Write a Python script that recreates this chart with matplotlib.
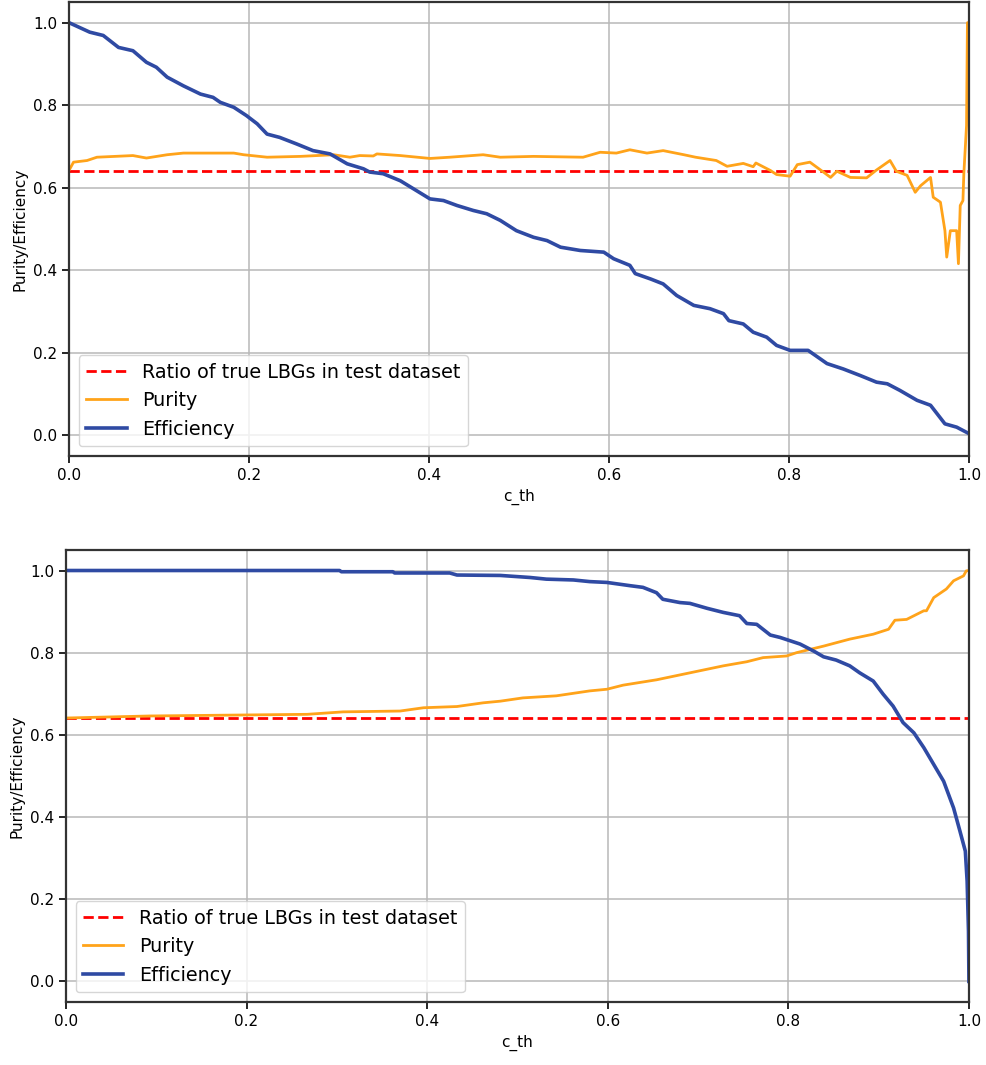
import numpy as np
import matplotlib
matplotlib.use('Agg')
import matplotlib.pyplot as plt

# ratio of true LBGs in the test set
ratio = 0.641

# ---- top panel ----
eff1_x = [0.0, 0.023, 0.038, 0.055, 0.071, 0.086, 0.097, 0.109, 0.127, 0.146, 0.160, 0.168,
          0.183, 0.197, 0.209, 0.220, 0.234, 0.253, 0.271, 0.290, 0.309, 0.327, 0.334, 0.349,
          0.368, 0.386, 0.401, 0.416, 0.431, 0.449, 0.464, 0.479, 0.497, 0.516, 0.531, 0.546,
          0.568, 0.594, 0.605, 0.623, 0.629, 0.646, 0.660, 0.675, 0.694, 0.712, 0.727, 0.733,
          0.749, 0.760, 0.775, 0.786, 0.801, 0.821, 0.842, 0.860, 0.879, 0.897, 0.909, 0.923,
          0.942, 0.957, 0.973, 0.986, 1.0]
eff1_y = [1.0, 0.977, 0.969, 0.940, 0.932, 0.904, 0.892, 0.868, 0.847, 0.827, 0.819, 0.807,
          0.795, 0.775, 0.755, 0.730, 0.722, 0.706, 0.690, 0.682, 0.658, 0.646, 0.638, 0.634,
          0.617, 0.593, 0.573, 0.569, 0.557, 0.545, 0.537, 0.521, 0.496, 0.480, 0.472, 0.456,
          0.448, 0.444, 0.428, 0.412, 0.392, 0.379, 0.367, 0.339, 0.315, 0.307, 0.295, 0.278,
          0.270, 0.250, 0.238, 0.218, 0.206, 0.206, 0.174, 0.161, 0.145, 0.129, 0.125, 0.109,
          0.085, 0.073, 0.028, 0.020, 0.004]

pur1_x = [0.0, 0.005, 0.020, 0.031, 0.071, 0.086, 0.109, 0.127, 0.183, 0.194, 0.220, 0.257,
          0.294, 0.312, 0.323, 0.338, 0.342, 0.368, 0.401, 0.423, 0.460, 0.479, 0.516, 0.571,
          0.590, 0.608, 0.623, 0.642, 0.660, 0.683, 0.696, 0.719, 0.731, 0.749, 0.760, 0.763,
          0.779, 0.786, 0.801, 0.809, 0.823, 0.838, 0.846, 0.853, 0.868, 0.886, 0.897, 0.912,
          0.919, 0.931, 0.940, 0.946, 0.957, 0.960, 0.968, 0.973, 0.975, 0.979, 0.986, 0.988,
          0.990, 0.993, 0.994, 0.997, 0.998, 1.0]
pur1_y = [0.642, 0.662, 0.666, 0.674, 0.678, 0.672, 0.680, 0.684, 0.684, 0.680, 0.674, 0.676,
          0.680, 0.674, 0.678, 0.677, 0.682, 0.678, 0.671, 0.674, 0.680, 0.674, 0.676, 0.674,
          0.686, 0.684, 0.692, 0.684, 0.690, 0.680, 0.674, 0.666, 0.652, 0.659, 0.651, 0.660,
          0.642, 0.632, 0.628, 0.656, 0.662, 0.638, 0.625, 0.640, 0.625, 0.624, 0.643, 0.666,
          0.640, 0.630, 0.589, 0.605, 0.625, 0.577, 0.565, 0.496, 0.432, 0.496, 0.496, 0.416,
          0.557, 0.569, 0.634, 0.751, 1.0, 1.0]

# ---- bottom panel ----
eff2_x = [0.0, 0.303, 0.305, 0.362, 0.364, 0.425, 0.433, 0.481, 0.514, 0.532, 0.562, 0.580,
          0.599, 0.625, 0.639, 0.654, 0.661, 0.680, 0.691, 0.710, 0.728, 0.746, 0.754, 0.765,
          0.780, 0.791, 0.802, 0.813, 0.828, 0.839, 0.853, 0.868, 0.879, 0.894, 0.905, 0.916,
          0.927, 0.939, 0.950, 0.961, 0.972, 0.983, 0.990, 0.996, 0.998, 0.9995, 1.0]
eff2_y = [1.0, 1.0, 0.997, 0.997, 0.994, 0.994, 0.989, 0.988, 0.983, 0.979, 0.977, 0.973,
          0.971, 0.963, 0.959, 0.946, 0.930, 0.922, 0.920, 0.908, 0.898, 0.890, 0.871, 0.869,
          0.843, 0.837, 0.829, 0.821, 0.804, 0.790, 0.782, 0.768, 0.751, 0.731, 0.699, 0.670,
          0.630, 0.605, 0.569, 0.528, 0.487, 0.422, 0.366, 0.317, 0.244, 0.122, 0.0]

pur2_x = [0.0, 0.093, 0.267, 0.307, 0.370, 0.396, 0.433, 0.462, 0.481, 0.506, 0.543, 0.580,
          0.599, 0.617, 0.654, 0.691, 0.728, 0.754, 0.772, 0.798, 0.809, 0.839, 0.868, 0.894,
          0.911, 0.918, 0.931, 0.950, 0.953, 0.961, 0.975, 0.983, 0.994, 0.997, 1.0]
pur2_y = [0.641, 0.646, 0.650, 0.656, 0.658, 0.666, 0.669, 0.678, 0.682, 0.690, 0.695, 0.707,
          0.711, 0.721, 0.734, 0.751, 0.768, 0.778, 0.788, 0.792, 0.800, 0.816, 0.833, 0.845,
          0.857, 0.879, 0.881, 0.902, 0.902, 0.934, 0.955, 0.975, 0.987, 0.999, 1.0]

blue = '#2f4aa3'
orange = '#ffa31a'

plt.rcParams['font.size'] = 11
fig = plt.figure(figsize=(9.86, 10.65), dpi=100)
ax1 = fig.add_axes([0.070, 0.5718, 0.913, 0.4263])
ax2 = fig.add_axes([0.0669, 0.0592, 0.9158, 0.4244])

panels = [(ax1, eff1_x, eff1_y, pur1_x, pur1_y), (ax2, eff2_x, eff2_y, pur2_x, pur2_y)]
for ax, ex, ey, px, py in panels:
    ax.plot([0, 1], [ratio, ratio], '--', color='red', lw=2, label='Ratio of true LBGs in test dataset')
    ax.plot(px, py, color=orange, lw=2, label='Purity')
    ax.plot(ex, ey, color=blue, lw=2.6, label='Efficiency')
    ax.set_xlim(0, 1)
    ax.set_ylim(-0.05, 1.05)
    ax.set_xticks([0, 0.2, 0.4, 0.6, 0.8, 1.0])
    ax.set_yticks([0, 0.2, 0.4, 0.6, 0.8, 1.0])
    ax.grid(True, color='#b8b8b8', lw=1.1)
    ax.set_axisbelow(True)
    ax.set_xlabel('c_th', fontsize=11)
    ax.set_ylabel('Purity/Efficiency', fontsize=11)
    for s in ax.spines.values():
        s.set_linewidth(1.6)
        s.set_color('#333333')
    ax.tick_params(labelsize=11, width=1.2, length=5)
    ax.legend(loc='lower left', fontsize=13.8, handlelength=2.1, borderaxespad=0.5)

fig.savefig('out.png', dpi=100)
